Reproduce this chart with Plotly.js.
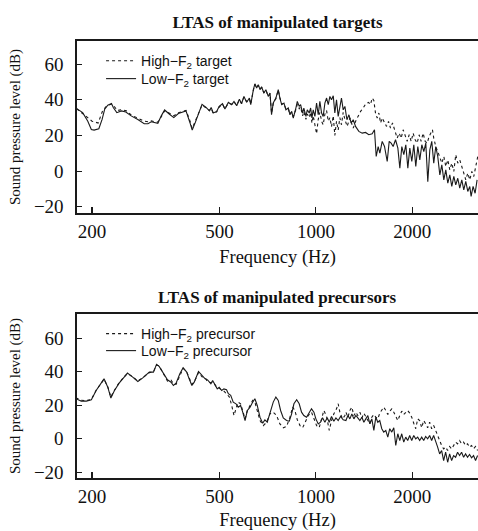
<!DOCTYPE html>
<html><head><meta charset="utf-8">
<script src="https://cdn.plot.ly/plotly-3.0.1.min.js"></script>
<style>html,body{margin:0;padding:0;background:#fff;overflow:hidden}</style>
</head><body><div id="chart" style="width:478px;height:531px"></div>
<script>
// ---- Top panel: targets ----
const tgtHighFreq = [179,186,193,200,209,216,222,229,234,240,247,256,265,278,291,300,306,313,321,329,337,349,360,372,382,393,403,411,420,431,441,454,465,471,
478,490,499,511,520,533,546,555,566,577,586,596,608,620,626,638,645,653,661,669,677,688,698,710,719,727,736,750,763,772,782,795,806,820,830,840,850,866,875,887,896,909,917,931,940,953,963,972,981,993,1005,1017,1029,1042,1054,1067,1080,1093,1106,1119,1133,1146,1160,1174,1188,1202,1217,1232,
1252,1277,1308,1330,1352,1379,1405,1432,1460,1481,1499,1517,1535,1554,1573,1592,1611,1638,1662,1686,1710,1735,1760,1794,1820,1846,1873,1900,1928,1956,1984,2012,2042,2071,2101,2131,2162,2194,2226,2258,2291,2312,2334,2368,2402,2438,2473,2509,2545,2582,2619,2657,2696,2734,2774,2814,2855,2896,2938,2981,3024,3068,3112,3157,3202];
const tgtHighLevel = [35,32.5,30,28,27,34,36.5,37.5,36.5,34,34.5,33.8,31.5,29.5,28,27.7,28.2,27.8,27.5,30.5,33.8,32.5,31,32.8,33.5,34,29,24,28,33,37,35.5,34,35.2,
32.4,33.2,36,37.5,35,38.2,37.5,38.8,37,40,38,41.5,39,40.6,37.8,45.4,48.6,46.8,48.2,46,47,44,45.4,42,43.5,32.5,38,40.6,45.4,41.2,37.6,38,34.8,35,32,33.2,30.5,34.5,37.5,35,36,31,33.5,29,32,30,33,27,31,26,21,29,33,28,26,32,34,28,30,25,31,20,28,23,30,26,33,29,
25.1,29.8,24.1,27.9,30.7,33.5,35.4,37.8,38.6,37.3,41,39.7,32.6,29.8,32.6,27,29.8,27,25.1,27.9,24.1,27,23.2,18.5,21.3,18.5,23.2,19.5,16.7,20.4,16.7,21.3,17.6,15.7,20.4,16.7,21.3,16.7,15.7,19.5,22.3,23.2,18.5,13.8,11,8.2,4.5,8.2,2.6,6.3,0.7,4.5,-0.2,9.2,4.5,6.3,1.7,-1.1,-4.9,-1.1,-4.9,-0.2,-3,2.6,8.2];

const tgtLowFreq = [179,187,194,199,203,210,215,219,224,230,233,239,247,255,265,278,291,299,306,313,321,329,337,349,360,372,382,393,403,411,420,431,441,454,465,471,
478,490,499,511,520,533,546,555,566,577,586,596,608,620,626,638,645,653,661,669,677,688,698,710,719,727,736,750,763,772,782,795,806,820,830,840,850,866,875,887,896,909,917,931,940,953,963,972,981,993,1005,1017,1029,1042,1054,1067,1080,1093,1106,1119,1133,1146,1160,1174,1188,1202,1217,1232,
1250,1268,1289,1308,1330,1362,1395,1429,1463,1499,1524,1543,1565,1584,1611,1638,1670,1694,1718,1743,1773,1803,1829,1855,1882,1909,1937,1965,1993,2022,2051,2081,2111,2142,2173,2204,2236,2269,2301,2334,2368,2402,2438,2473,2509,2545,2582,2619,2657,2696,2734,2774,2814,2855,2896,2938,2981,3024,3053,3097,3142,3187];
const tgtLowLevel = [35.1,32.8,28,23.4,23,23.8,29,34.7,37,38,35.7,32.8,33.8,33.2,31,29,26.6,26.6,27.7,27.2,26.8,31,34.3,31.9,30,32.3,33.2,33.8,28,23,27.2,32.8,37.5,35.7,33.8,35.7,
32.6,33.5,36.3,37.8,34.8,38.6,37.3,39.1,36.7,40.4,37.8,41.9,38.6,41,37.3,45.7,49,46.6,48.5,45.7,47.2,43.8,45.7,41.9,43.8,31.6,38.2,41,45.7,41,37.3,38.2,34.4,35.4,31.6,33.5,29.8,35.4,39.1,36.3,37.3,32.6,35.4,30.7,34.4,32.6,35.4,29.8,34.4,30.7,38.2,31.6,39.1,32.6,30.7,38.2,41,37.3,41.9,40,42.3,32.6,40,30.7,37.3,41,34.4,36.3,
28.8,31.6,27,28.8,25.1,22.3,21.3,21.7,20.4,21,23.2,8.2,13.8,10.1,16.7,13.8,5.4,16.7,15.7,13.8,17.6,12.9,1.7,13.8,9.2,14.8,1.7,12.9,5.4,14.8,2.6,13.8,6.3,14.8,11,15.7,-6,12,16.7,4.5,13.8,8.2,-2.1,3.5,-4.9,0.7,-6.8,-2.1,-8.6,-3,-7.7,-4,-9.6,-4.9,-10.5,-5.8,-11.4,-8.6,-14.2,-8.6,-12.4,-4.9];

// ---- Bottom panel: precursors ----
const preHighFreq = [178,185,192,199,206,213,218,224,229,235,243,252,258,268,278,288,302,311,318,324,334,344,353,359,366,376,385,395,402,410,417,430,441,451,459,470,
478,490,502,514,526,537,546,555,563,572,582,593,601,611,623,635,645,656,669,685,702,719,736,754,772,791,810,830,846,860,875,892,909,926,946,969,986,1005,1024,1042,1059,1080,1101,1119,1138,1160,1174,1188,1211,1232,
1241,1259,1277,1295,1314,1333,1352,1372,1392,1412,1432,1453,1474,1495,1517,1539,1561,1583,1606,1629,1653,1677,1701,1726,1751,1776,1802,1828,1854,1881,1908,1935,1963,1992,2021,2050,2079,2109,2140,2171,2202,2234,2266,2299,2332,2366,2400,2435,2470,2506,2542,2579,2616,2654,2692,2731,2770,2810,2851,2892,2934,2976,3019,3063,3107,3152,3198];
const preHighLevel = [24.5,23,22.8,23.5,29,33,35.5,31,25,29,33.5,37,39,37,34.5,36.5,39.5,40,44,43.5,38.5,34.5,35,33,32.5,38,42,40,36.5,32.5,34,39.5,37,36.5,34,33.5,
33.8,30.8,29.8,28.8,26.9,24.9,19.9,13.9,17.9,21.9,20.9,15.9,11.9,16.9,19.9,22.9,21.9,16.9,10.9,7.9,9.9,14.9,15.9,13.9,8.9,6.6,7.4,12.9,18.9,16.9,11.3,7.9,6.6,9.9,13.9,15.9,11.9,7.9,6.6,12.9,16.9,13.3,5,10.9,14.9,17.9,20.9,15.9,11.9,13.9,
15.9,12.9,16.9,18.9,13.9,15.9,13.9,15.9,12.5,15.3,13.3,10.9,8.9,12.9,14.5,12.9,11.9,15.3,17.3,18.9,16.9,14.5,16.5,17.9,15.9,12.9,10.9,13.9,16.5,14.5,15.9,16.9,15.3,12.9,9.3,6,11.9,10.9,6.6,10.9,8.9,6.6,9.9,6,8,5,1,-1,-4,-6,-5,-7,-4.6,-6,-4,-2,-3,-1,-3,-2,-4,-3,-5,-4,-6,-4.6,-7];

const preLowFreq = [178,185,192,199,206,213,218,224,229,235,243,252,258,268,278,288,302,311,318,324,334,344,353,359,366,376,385,395,402,410,417,430,441,451,459,470,
476,484,492,499,508,516,526,533,542,552,563,572,582,591,601,611,623,635,645,656,669,682,693,705,719,736,750,763,776,791,810,826,840,854,871,887,902,917,935,953,969,986,1000,1017,1034,1049,1067,1085,1101,1119,1138,1155,1174,1194,1217,
1241,1259,1277,1295,1314,1333,1352,1372,1392,1412,1432,1453,1474,1495,1517,1539,1561,1583,1606,1629,1653,1677,1701,1726,1751,1776,1802,1828,1854,1881,1908,1935,1963,1992,2021,2050,2079,2109,2140,2171,2202,2234,2266,2299,2332,2366,2400,2435,2470,2506,2542,2579,2616,2654,2692,2731,2770,2810,2851,2892,2934,2976,3019,3063,3107,3152,3198];
const preLowLevel = [23.9,22.5,22.5,23.3,28.8,33.2,35.8,30.8,24.3,28.8,33.2,36.8,39.2,36.8,34.2,36.4,39.8,39.8,44.4,43.2,38.8,35.2,33.8,31.8,33.2,38.8,42.4,39.8,35.8,31.8,33.8,40.2,37.8,35.8,35.2,32.8,
34.8,31.8,29.8,30.8,28.8,29.8,29.3,26.9,25.9,21.9,20.9,18.9,19.9,15.9,10.9,16.9,18.9,21.9,23.9,19.9,12.9,9.3,11.3,9.9,14.9,21.9,24.9,22.9,16.9,12.5,10.9,10.5,14.9,20.9,23.3,20.9,15.9,13.9,12.9,15.3,17.9,15.9,11.9,8.9,9.9,12.5,9.9,12.5,9.9,13.3,10.5,12.5,10.9,13.3,11.3,
10.9,13.9,11.9,14.9,11.9,13.9,12.5,10.9,12.9,9.9,11.9,13.9,8.9,11.9,5,12.9,9.9,10.9,6,4,5,1,6,4,6.6,-4,3,-1,3,-2,1,-1,2,-1,2,0,1,-1,1,-1,1.4,0,2,-1,2,-1,-5,-9,-7,-13,-8,-14,-9,-13,-10,-11,-8,-10,-8,-11,-9,-11,-9.4,-11.4,-10,-13,-10];

const freqTicks = [200, 500, 1000, 2000];
const freqTickText = ['200', '500', '1000', '2000'];
const levelTicks = [-20, 0, 20, 40, 60];
const levelTickText = ['\u221220', '0', '20', '40', '60'];
const panelTitles = ['LTAS of manipulated targets', 'LTAS of manipulated precursors'];
const seriesNames = ['High\u2212F<sub>2</sub> target', 'Low\u2212F<sub>2</sub> target',
                     'High\u2212F<sub>2</sub> precursor', 'Low\u2212F<sub>2</sub> precursor'];

const serif = 'Liberation Serif, Times New Roman, serif';
const sans = 'Liberation Sans, Arial, sans-serif';
const ink = '#1a1a1a';

function trace(x, y, name, dash, xa, ya, lg) {
  return {x: x, y: y, name: name, type: 'scatter', mode: 'lines',
    line: {color: ink, width: 1.1, dash: dash},
    xaxis: xa, yaxis: ya, legend: lg, hoverinfo: 'skip'};
}
const data = [
  trace(tgtHighFreq, tgtHighLevel, seriesNames[0], '3px,3px', 'x', 'y', 'legend'),
  trace(tgtLowFreq, tgtLowLevel, seriesNames[1], 'solid', 'x', 'y', 'legend2'),
  trace(preHighFreq, preHighLevel, seriesNames[2], '3px,3px', 'x2', 'y2', 'legend3'),
  trace(preLowFreq, preLowLevel, seriesNames[3], 'solid', 'x2', 'y2', 'legend4')
];

function xAxis(anchor) {
  return {type: 'log', anchor: anchor, range: [Math.log10(179.5), Math.log10(3208)],
    tickvals: freqTicks, ticktext: freqTickText, ticks: 'inside', ticklen: 6, tickwidth: 1.2, tickcolor: ink,
    showline: true, linecolor: ink, linewidth: 1.7, mirror: true, showgrid: false, zeroline: false,
    tickfont: {family: serif, size: 19, color: '#111'},
    title: {text: 'Frequency (Hz)', font: {family: serif, size: 18.5, color: '#111'}, standoff: 9}};
}
function yAxis(anchor, domain, range) {
  return {anchor: anchor, domain: domain, range: range,
    tickvals: levelTicks, ticktext: levelTickText, ticks: 'inside', ticklen: 5, tickwidth: 1.2, tickcolor: ink,
    showline: true, linecolor: ink, linewidth: 1.6, mirror: false, showgrid: false, zeroline: false,
    ticklabelstandoff: 8,
    tickfont: {family: serif, size: 19, color: '#111'},
    title: {text: 'Sound pressure level (dB)', font: {family: serif, size: 15, color: '#111'}, standoff: 9}};
}
function legendAt(y) {
  return {x: 0.06, xanchor: 'left', y: y, yanchor: 'middle', bgcolor: 'rgba(0,0,0,0)',
    borderwidth: 0, font: {family: sans, size: 14, color: '#111'}, itemwidth: 30};
}

const layout = {
  width: 478, height: 531,
  margin: {l: 77, r: 0, t: 41, b: 53},
  paper_bgcolor: '#fff', plot_bgcolor: '#fff',
  showlegend: true,
  title: {text: '<b>' + panelTitles[0] + '</b>', font: {family: serif, size: 17, color: '#111'},
    x: 0.5806, xanchor: 'center', y: 1 - 22 / 531, yanchor: 'middle'},
  xaxis: xAxis('y'),
  yaxis: yAxis('x', [0.6064, 1], [-23.5, 73]),
  xaxis2: xAxis('y2'),
  yaxis2: yAxis('x2', [0, 0.3753], [-23.4, 74.5]),
  legend: legendAt(0.954),
  legend2: legendAt(0.913),
  legend3: legendAt(0.3295),
  legend4: legendAt(0.2906),
  annotations: [{text: '<b>' + panelTitles[1] + '</b>', xref: 'paper', yref: 'paper',
    x: 0.5, y: (478 - 297) / 437, xanchor: 'center', yanchor: 'middle', showarrow: false,
    font: {family: serif, size: 17, color: '#111'}}]
};

Plotly.newPlot('chart', data, layout, {displayModeBar: false, staticPlot: true});
</script>
</body></html>
